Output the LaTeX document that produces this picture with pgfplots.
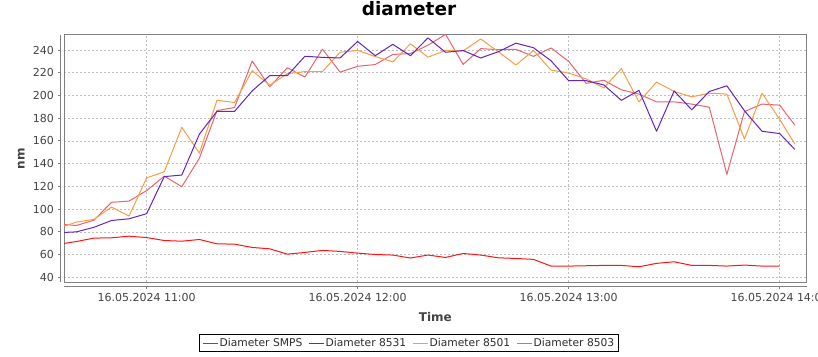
\documentclass[border=0pt]{standalone}
\usepackage{fontspec}
\setmainfont{DejaVu Sans}
\usepackage{pgfplots}
\pgfplotsset{compat=1.18}
\usepackage{pgfplotstable}

\definecolor{cSMPS}{RGB}{255,20,20}
\definecolor{cA}{RGB}{100,35,195}
\definecolor{cB}{RGB}{246,158,70}
\definecolor{cC}{RGB}{232,100,110}
\definecolor{axisgray}{RGB}{128,128,128}
\definecolor{gridgray}{RGB}{190,190,190}
\definecolor{ticktext}{RGB}{68,68,68}
\definecolor{legtext}{RGB}{45,45,45}

% x = minutes after 16.05.2024 11:00
\pgfplotstableread{
t v
-23.5 69.8
-20 71.5
-15 74.5
-10 74.8
-5 76.2
0 75.0
5 72.4
10 71.8
15 73.3
20 69.5
25 69.2
30 66.3
35 65.1
40 60.4
45 61.9
50 63.7
55 62.8
60 61.3
65 60.1
70 59.6
75 57.0
80 59.6
85 57.5
90 61.0
95 59.6
100 57.2
105 56.6
110 55.8
115 49.9
120 49.9
125 50.2
130 50.5
135 50.5
140 49.3
145 52.3
150 53.7
155 50.5
160 50.5
165 49.9
170 50.8
175 49.9
180 49.9
}\smps

\pgfplotstableread{
t v
-23.5 79.5
-20 80.0
-15 84.0
-10 90.0
-5 91.5
0 96.0
5 128.6
10 130.0
15 166.0
20 186.0
25 186.0
30 204.0
35 217.5
40 217.5
45 234.5
50 233.5
55 233.0
60 247.5
65 235.0
70 245.0
75 235.0
80 250.6
85 238.0
90 239.5
95 233.0
100 238.5
105 246.0
110 242.0
115 230.5
120 213.0
125 213.0
130 209.3
135 195.7
140 204.5
145 168.5
150 204.0
155 187.4
160 203.5
165 208.5
170 186.5
175 168.5
180 166.5
184.3 152.6
}\dA

\pgfplotstableread{
t v
-23.5 85.0
-20 88.6
-15 91.0
-10 101.8
-5 93.9
0 127.5
5 132.8
10 172.0
15 149.3
20 195.8
25 193.8
30 221.8
35 209.0
40 219.2
45 221.0
50 221.0
55 238.1
60 239.7
65 234.2
70 229.6
75 245.5
80 233.7
85 239.7
90 239.2
95 249.7
100 238.5
105 226.8
110 239.6
115 222.3
120 219.7
125 214.6
130 206.7
135 223.6
140 194.3
145 211.8
150 203.5
155 198.8
160 202.0
165 201.2
170 161.7
175 202.0
180 179.0
184.3 157.4
}\dB

\pgfplotstableread{
t v
-23.5 86.5
-20 85.6
-15 90.3
-10 106.0
-5 107.1
0 116.3
5 129.0
10 119.8
15 144.8
20 186.7
25 189.4
30 230.3
35 207.6
40 224.4
45 216.2
50 240.7
55 220.5
60 225.7
65 227.2
70 236.1
75 236.9
80 244.2
85 253.8
90 227.3
95 241.2
100 240.3
105 240.6
110 234.4
115 241.8
120 230.0
125 210.6
130 213.4
135 205.0
140 201.2
145 194.4
150 194.4
155 192.4
160 189.7
165 130.6
170 185.9
175 192.4
180 191.5
184.3 174.1
}\dC

\begin{document}
\begin{tikzpicture}[x=1bp,y=1bp]
\useasboundingbox[fill=white] (0,0) rectangle (818,356);
\begin{axis}[
  name=ax,
  at={(64bp,74bp)}, anchor=south west,
  scale only axis, width=742.7bp, height=247bp,
  xmin=-23.5, xmax=187.7, ymin=35.9, ymax=253.2,
  xtick={0,60,120,180},
  xticklabels={16.05.2024 11:00,16.05.2024 12:00,16.05.2024 13:00,16.05.2024 14:00},
  ytick={40,60,...,240},
  /pgf/number format/assume math mode=true,
  major tick length=0pt,
  grid=major,
  major grid style={gridgray, line width=0.6bp, dash pattern=on 2bp off 2bp},
  axis line style={axisgray, line width=1bp},
  tick label style={text=ticktext, font=\fontsize{11bp}{13bp}\selectfont},
  yticklabel style={anchor=east, inner sep=0pt, xshift=-10bp},
  xticklabel style={anchor=north, inner sep=0pt, yshift=-11bp},
  title={diameter},
  title style={at={(axis description cs:0.4645,1.054)}, anchor=base, inner sep=0pt, font=\bfseries\fontsize{18.5bp}{20bp}\selectfont},
  xlabel={Time},
  xlabel style={at={(axis description cs:0.5,-0.158)}, anchor=base, inner sep=0pt, text=ticktext, font=\bfseries\fontsize{12bp}{14bp}\selectfont},
  ylabel={nm},
  ylabel style={at={(axis description cs:-0.0575,0.5)}, anchor=center, inner sep=0pt, text=ticktext, font=\bfseries\fontsize{12bp}{14bp}\selectfont},
  legend columns=4,
  reverse legend,
  legend cell align=left,
  legend image code/.code={\draw[#1, line width=1bp] (0bp,0bp) -- (15bp,0bp);},
  legend style={at={(axis description cs:0.4645,-0.247)}, anchor=center, draw=black, line width=1bp,
    font=\fontsize{10.7bp}{12bp}\selectfont, text=legtext, inner xsep=3bp, inner ysep=2.5bp,
    nodes={inner xsep=1.2bp, inner ysep=1bp},
    /tikz/every even column/.append style={column sep=5bp}},
  every axis plot/.append style={line width=1bp, no marks, line join=round},
  after end axis/.code={
    \foreach \t in {0,60,120,180}
      \draw[axisgray, line width=1bp] ([yshift=-4bp]axis cs:\t,35.9) -- ([yshift=-6.5bp]axis cs:\t,35.9);
    \foreach \v in {40,60,...,240}
      \draw[axisgray, line width=1bp] ([xshift=-4bp]axis cs:-23.5,\v) -- ([xshift=-6.5bp]axis cs:-23.5,\v);
  },
]
\addplot[cC] table[x=t,y=v] {\dC};
\addlegendentry{Diameter 8503}
\addplot[cB] table[x=t,y=v] {\dB};
\addlegendentry{Diameter 8501}
\addplot[cA] table[x=t,y=v] {\dA};
\addlegendentry{Diameter 8531}
\addplot[cSMPS] table[x=t,y=v] {\smps};
\addlegendentry{Diameter SMPS}
\end{axis}
\draw[axisgray, line width=1bp] ([xshift=-4bp]ax.south west) -- ([xshift=-4bp]ax.north west);
\draw[axisgray, line width=1bp] ([yshift=-4bp]ax.south west) -- ([yshift=-4bp]ax.south east);
\end{tikzpicture}
\end{document}
